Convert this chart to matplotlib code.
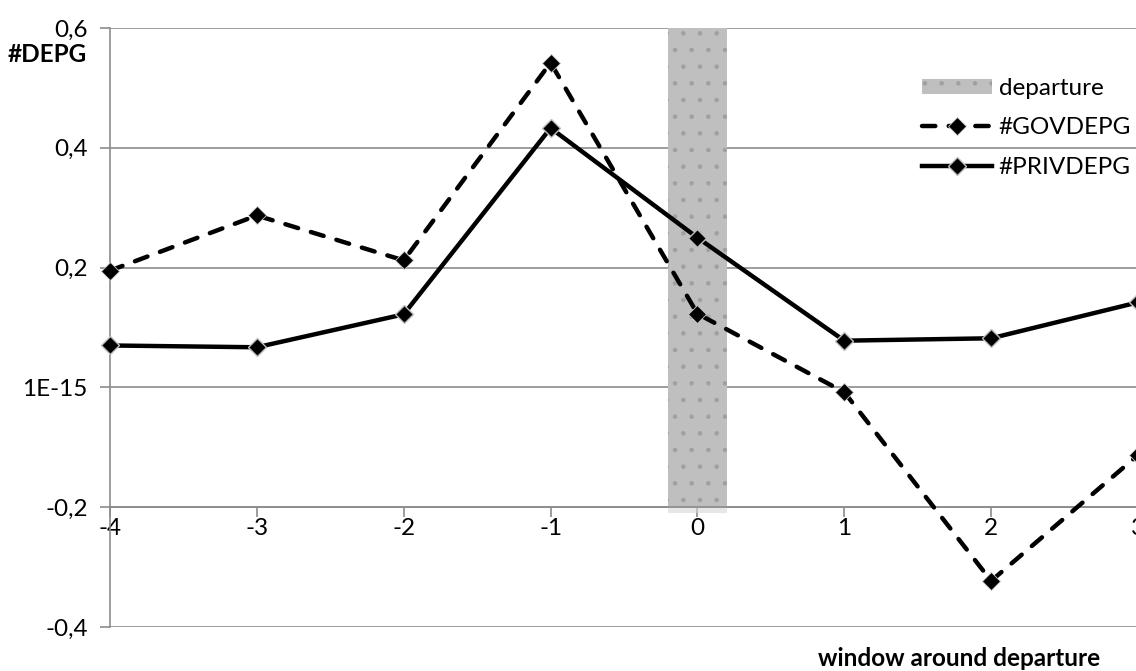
import numpy as np
import matplotlib.pyplot as plt
import matplotlib.patheffects as pe
from matplotlib.patches import Patch

# data
window = [-4, -3, -2, -1, 0, 1, 2, 3]
gov_depg = [0.195, 0.287, 0.212, 0.542, 0.123, -0.008, -0.323, -0.113]
priv_depg = [0.070, 0.067, 0.122, 0.433, 0.250, 0.078, 0.082, 0.142]
departure_x = [0]
departure_top = [0.6]
y_ticks = [-0.4, -0.2, 0.0, 0.2, 0.4, 0.6]
y_labels = ['-0,4', '-0,2', '1E-15', '0,2', '0,4', '0,6']

plt.rcParams['font.family'] = ['Lato', 'DejaVu Sans']
plt.rcParams['hatch.linewidth'] = 0.8

FS = 17.5

fig = plt.figure(figsize=(11.36, 6.71), dpi=100)
ax = fig.add_axes([110 / 1136, 1 - 627 / 671, 1028 / 1136, 599 / 671])

# departure bar, from the axis crossing (-0.2) up
base = -0.2
ax.bar(departure_x, [t - base for t in departure_top], bottom=base, width=0.4,
       color='#bfbfbf', edgecolor='#a0a0a0', linewidth=0, hatch='.', zorder=2,
       path_effects=[pe.SimplePatchShadow(offset=(0, -4), shadow_rgbFace='#d8d8d8', alpha=0.6),
                     pe.Normal()])

gov_line, = ax.plot(window, gov_depg, color='black', lw=3.2, ls=(0, (3, 3)),
                    dash_capstyle='round', marker='D', markersize=9,
                    markerfacecolor='black', markeredgecolor='#c8c8c8',
                    markeredgewidth=0.6, zorder=4, clip_on=False)
priv_line, = ax.plot(window, priv_depg, color='black', lw=3.2, ls='-',
                     marker='D', markersize=9, markerfacecolor='black',
                     markeredgecolor='#bdbdbd', markeredgewidth=1.0,
                     zorder=4, clip_on=False)

ax.set_xlim(-4, 3)
ax.set_ylim(-0.4, 0.6)
ax.set_yticks(y_ticks)
ax.set_yticklabels(y_labels)
ax.set_xticks(window)
ax.set_xticklabels([str(w) for w in window])

ax.grid(axis='y', color='#8c8c8c', lw=1.2, zorder=1)
ax.set_axisbelow(True)

for s in ['top', 'right']:
    ax.spines[s].set_visible(False)
ax.spines['bottom'].set_position(('data', -0.2))
ax.spines['bottom'].set_color('#8c8c8c')
ax.spines['bottom'].set_linewidth(1.2)
ax.spines['left'].set_color('#8c8c8c')
ax.spines['left'].set_linewidth(1.2)

ax.tick_params(axis='y', length=7, width=1.2, color='#8c8c8c', labelsize=FS, pad=9)
ax.tick_params(axis='x', length=7, width=1.2, color='#8c8c8c', labelsize=FS, pad=1)

dep_patch = Patch(facecolor='#bfbfbf', edgecolor='#a0a0a0', linewidth=0, hatch='.')
ax.legend([dep_patch, gov_line, priv_line], ['departure', '#GOVDEPG', '#PRIVDEPG'],
          loc='upper left', bbox_to_anchor=((922 - 110) / 1028, 1 - (78 - 28) / 599),
          frameon=False, fontsize=FS, handlelength=2.9, handleheight=0.6,
          handletextpad=0.25, labelspacing=0.76, borderaxespad=0, borderpad=0)

fig.text(8 / 1136, 1 - 55 / 671, '#DEPG', fontsize=FS, fontweight='bold',
         ha='left', va='center')
fig.text(1100 / 1136, 1 - 659 / 671, 'window around departure', fontsize=FS,
         fontweight='bold', ha='right', va='center')

fig.savefig('out.png', dpi=100)
